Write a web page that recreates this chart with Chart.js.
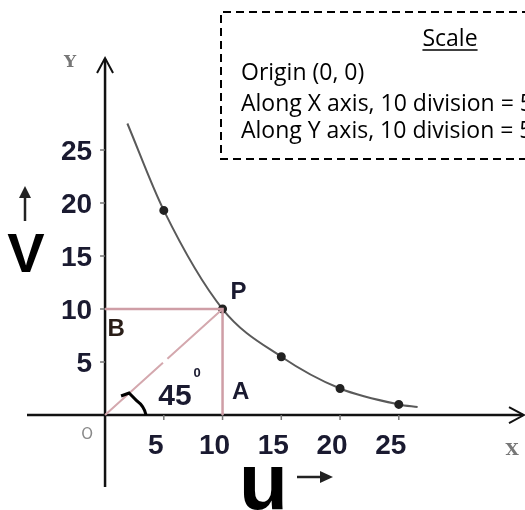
<!DOCTYPE html>
<html>
<head>
<meta charset="utf-8">
<script src="https://cdn.jsdelivr.net/npm/chart.js@4"></script>
<style>
  body { margin: 0; background: #fff; }
  canvas { display: block; }
</style>
</head>
<body>
<canvas id="myChart" width="525" height="510"></canvas>
<script>
// values
const curveU = [1.9, 5, 10, 15, 20, 25, 26.6];
const curveV = [27.5, 19.3, 10, 5.5, 2.5, 1, 0.75];
const markedU = [5, 10, 15, 20, 25];
const pointP = [10, 10];
const uTicks = [5, 10, 15, 20, 25];
const vTicks = [5, 10, 15, 20, 25];
const uTickLabels = ["5", "10", "15", "20", "25"];
const vTickLabels = ["5", "10", "15", "20", "25"];
const scaleTitle = "Scale";
const scaleLines = ["Origin (0, 0)", "Along X axis, 10 division = 5", "Along Y axis, 10 division = 5"];

const curveData = curveU.map((u, i) => ({ x: u, y: curveV[i] }));
const projData = [
  { x: 0, y: pointP[1] },
  { x: pointP[0], y: pointP[1] },
  { x: pointP[0], y: 0 },
];
const diagData = [{ x: 0, y: 0 }, { x: pointP[0], y: pointP[1] }];

const tickFont = "bold 28px 'Liberation Sans'";
const darkText = "#1a1a30";

const overlay = {
  id: "overlay",
  beforeDatasetsDraw(chart) {
    const ctx = chart.ctx;
    const xs = chart.scales.x;
    const ys = chart.scales.y;
    const ox = xs.getPixelForValue(0);
    const oy = ys.getPixelForValue(0);
    ctx.save();
    ctx.strokeStyle = "#111";
    ctx.lineWidth = 2.5;
    ctx.beginPath();
    ctx.moveTo(27, oy);
    ctx.lineTo(523, oy);
    ctx.moveTo(ox, 487);
    ctx.lineTo(ox, 59);
    ctx.stroke();
    // arrow heads
    ctx.lineWidth = 2;
    ctx.beginPath();
    ctx.moveTo(509, oy - 8);
    ctx.lineTo(524, oy);
    ctx.lineTo(509, oy + 8);
    ctx.moveTo(ox - 8, 73);
    ctx.lineTo(ox, 58);
    ctx.lineTo(ox + 8, 73);
    ctx.stroke();
    // small ticks
    ctx.lineWidth = 1.5;
    ctx.strokeStyle = "#777";
    ctx.beginPath();
    uTicks.forEach((u) => {
      const px = xs.getPixelForValue(u);
      ctx.moveTo(px, oy);
      ctx.lineTo(px, oy + 5);
    });
    vTicks.forEach((v) => {
      const py = ys.getPixelForValue(v);
      ctx.moveTo(ox, py);
      ctx.lineTo(ox - 5, py);
    });
    ctx.stroke();
    ctx.restore();
  },
  afterDatasetsDraw(chart) {
    const ctx = chart.ctx;
    const xs = chart.scales.x;
    const ys = chart.scales.y;
    const ox = xs.getPixelForValue(0);
    const oy = ys.getPixelForValue(0);
    const px = xs.getPixelForValue(pointP[0]);
    const py = ys.getPixelForValue(pointP[1]);
    ctx.save();

    // tick labels
    ctx.fillStyle = darkText;
    ctx.font = tickFont;
    ctx.textAlign = "center";
    ctx.textBaseline = "middle";
    uTicks.forEach((u, i) => {
      ctx.fillText(uTickLabels[i], xs.getPixelForValue(u) - 8, oy + 31);
    });
    ctx.textAlign = "right";
    vTicks.forEach((v, i) => {
      ctx.fillText(vTickLabels[i], ox - 13, ys.getPixelForValue(v) + 2);
    });

    // grey axis letters
    ctx.fillStyle = "#777";
    ctx.textAlign = "center";
    ctx.font = "bold 17px 'DejaVu Serif'";
    ctx.fillText("Y", 70, 63);
    ctx.fillText("X", 512, 451);
    ctx.font = "15px 'DejaVu Sans'";
    ctx.fillStyle = "#888";
    ctx.fillText("O", ox - 18, oy + 20);

    // big axis names
    ctx.fillStyle = "#000";
    ctx.font = "bold 56px 'Liberation Sans'";
    ctx.textAlign = "center";
    ctx.textBaseline = "alphabetic";
    ctx.fillText("V", 26, 272);
    ctx.font = "bold 80px 'Liberation Sans'";
    ctx.textAlign = "left";
    ctx.fillText("u", 239, 509);

    // arrows next to names
    ctx.strokeStyle = "#222";
    ctx.fillStyle = "#222";
    ctx.lineWidth = 2.5;
    ctx.beginPath();
    ctx.moveTo(25, 221);
    ctx.lineTo(25, 196);
    ctx.stroke();
    ctx.beginPath();
    ctx.moveTo(19, 198);
    ctx.lineTo(25, 186);
    ctx.lineTo(31, 198);
    ctx.closePath();
    ctx.fill();
    ctx.beginPath();
    ctx.moveTo(297, 477);
    ctx.lineTo(322, 477);
    ctx.stroke();
    ctx.beginPath();
    ctx.moveTo(320, 471);
    ctx.lineTo(333, 477);
    ctx.lineTo(320, 483);
    ctx.closePath();
    ctx.fill();

    // point letters
    ctx.fillStyle = darkText;
    ctx.textAlign = "center";
    ctx.textBaseline = "middle";
    ctx.font = "bold 24px 'Liberation Sans'";
    ctx.fillText("P", px + 16, py - 17);
    ctx.fillText("A", px + 18, oy - 23);
    ctx.fillStyle = "#2a1e18";
    ctx.fillText("B", ox + 11, py + 20);
    ctx.fillStyle = darkText;
    ctx.font = "bold 30px 'Liberation Sans'";
    ctx.fillText("45", ox + 70, oy - 18);
    ctx.font = "bold 13px 'Liberation Sans'";
    ctx.fillText("0", ox + 92, oy - 42);

    // angle mark (small hooked stroke)
    ctx.strokeStyle = "#000";
    ctx.lineWidth = 3;
    ctx.beginPath();
    ctx.moveTo(ox + 16, oy - 19);
    ctx.lineTo(ox + 24, oy - 22);
    ctx.quadraticCurveTo(ox + 28, oy - 18, ox + 32, oy - 14);
    ctx.quadraticCurveTo(ox + 39, oy - 9, ox + 41, oy);
    ctx.stroke();

    // scale box
    ctx.strokeStyle = "#000";
    ctx.lineWidth = 2;
    ctx.setLineDash([8, 5]);
    ctx.beginPath();
    ctx.moveTo(530, 12);
    ctx.lineTo(221, 12);
    ctx.lineTo(221, 159);
    ctx.lineTo(530, 159);
    ctx.stroke();
    ctx.setLineDash([]);

    ctx.fillStyle = "#000";
    ctx.font = "23px 'Open Sans'";
    ctx.textBaseline = "alphabetic";
    ctx.textAlign = "center";
    ctx.fillText(scaleTitle, 450, 46);
    const w = ctx.measureText(scaleTitle).width;
    ctx.lineWidth = 1.5;
    ctx.beginPath();
    ctx.moveTo(450 - w / 2, 50);
    ctx.lineTo(450 + w / 2, 50);
    ctx.stroke();
    ctx.textAlign = "left";
    const baselines = [80, 111, 138];
    scaleLines.forEach((t, i) => ctx.fillText(t, 241, baselines[i]));
    ctx.restore();
  },
};

new Chart("myChart", {
  type: "scatter",
  data: {
    datasets: [
      {
        label: "projections",
        data: projData,
        showLine: true,
        borderColor: "#cf9ea6",
        borderWidth: 2.5,
        pointRadius: 0,
        tension: 0,
      },
      {
        label: "diagonal",
        data: diagData,
        showLine: true,
        borderColor: "#d4a8ae",
        borderWidth: 2,
        borderDash: [78, 6, 200],
        pointRadius: 0,
        tension: 0,
      },
      {
        label: "curve",
        data: curveData,
        showLine: true,
        borderColor: "#5a5a5a",
        borderWidth: 2,
        cubicInterpolationMode: "monotone",
        pointRadius: curveU.map((u) => (markedU.includes(u) ? 3.5 : 0)),
        pointBackgroundColor: "#222",
        pointBorderColor: "#222",
      },
    ],
  },
  options: {
    responsive: false,
    animation: false,
    devicePixelRatio: 1,
    layout: { padding: 0 },
    scales: {
      x: { type: "linear", display: false, min: -8.94, max: 35.74 },
      y: { type: "linear", display: false, min: -8.96, max: 39.15 },
    },
    plugins: {
      legend: { display: false },
      tooltip: { enabled: false },
    },
  },
  plugins: [overlay],
});
</script>
</body>
</html>
